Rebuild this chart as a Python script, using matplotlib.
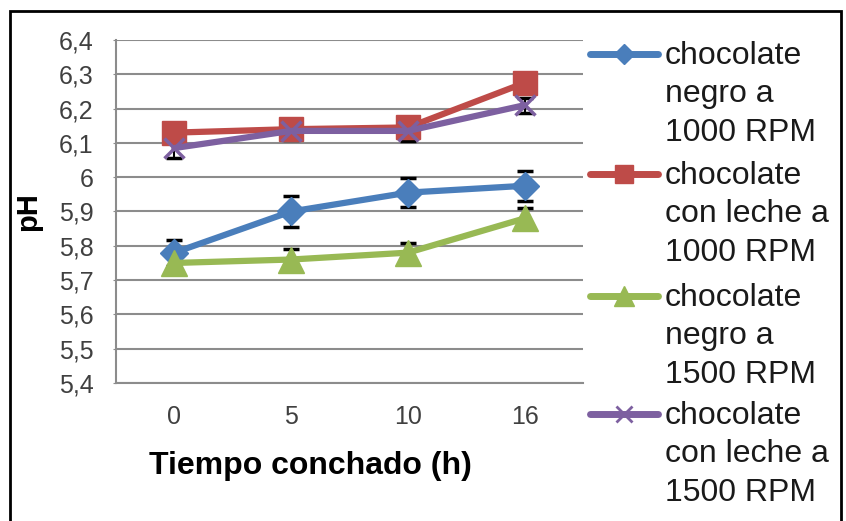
import matplotlib
matplotlib.use("Agg")
import matplotlib.pyplot as plt
from matplotlib.lines import Line2D
from matplotlib.patches import Rectangle
from matplotlib.ticker import FuncFormatter, MultipleLocator

plt.rcParams['font.family'] = ['Liberation Sans', 'DejaVu Sans']

categories = ["0", "5", "10", "16"]
series_names = [
    "chocolate\nnegro a\n1000 RPM",
    "chocolate\ncon leche a\n1000 RPM",
    "chocolate\nnegro a\n1500 RPM",
    "chocolate\ncon leche a\n1500 RPM",
]
negro_1000 = [5.78, 5.90, 5.955, 5.975]
leche_1000 = [6.13, 6.14, 6.145, 6.275]
negro_1500 = [5.75, 5.76, 5.78, 5.88]
leche_1500 = [6.085, 6.135, 6.135, 6.21]

err_negro_1000 = [0.038, 0.044, 0.043, 0.044]
err_leche_1000 = [0.0, 0.0, 0.0, 0.0]
err_negro_1500 = [0.03, 0.032, 0.027, 0.029]
err_leche_1500 = [0.03, 0.026, 0.03, 0.022]

colors = ["#4A7EBB", "#BE4B48", "#98B954", "#7D60A0"]
markers = ["D", "s", "^", "x"]
msizes = [14, 17, 19, 15]

values = [negro_1000, leche_1000, negro_1500, leche_1500]
errors = [err_negro_1000, err_leche_1000, err_negro_1500, err_leche_1500]

W, H = 846, 521
fig = plt.figure(figsize=(W / 100, H / 100), dpi=100)
ax = fig.add_axes([116 / W, (H - 383) / H, 467 / W, 343 / H])

x = list(range(len(categories)))
for i, (vals, errs) in enumerate(zip(values, errors)):
    ax.plot(x, vals, color=colors[i], lw=4.5, marker=markers[i], ms=msizes[i],
            mew=2.5 if markers[i] == "x" else 1, mec=colors[i], mfc=colors[i],
            zorder=3 + i, solid_capstyle='round')
    if any(e > 0 for e in errs):
        ax.errorbar(x, vals, yerr=errs, fmt='none', ecolor='black', elinewidth=1.5,
                    capsize=6, capthick=2.5, zorder=2.5)

ax.set_xlim(-0.5, 3.5)
ax.set_ylim(5.4, 6.4)
ax.yaxis.set_major_locator(MultipleLocator(0.1))

def fmt(v, pos):
    s = f"{v:.1f}".replace('.', ',')
    if s.endswith(',0'):
        s = s[:-2]
    return s

ax.yaxis.set_major_formatter(FuncFormatter(fmt))
ax.set_xticks(x)
ax.set_xticklabels(categories)
ax.grid(axis='y', color='#8C8C8C', lw=1.5)
ax.set_axisbelow(True)
for side in ['top', 'right']:
    ax.spines[side].set_visible(False)
for side in ['left', 'bottom']:
    ax.spines[side].set_color('#8C8C8C')
    ax.spines[side].set_linewidth(1.5)
ax.tick_params(axis='y', length=2, color='#8C8C8C', pad=14, labelsize=18, labelcolor='#404040')
ax.tick_params(axis='x', length=0, pad=16, labelsize=18, labelcolor='#404040')

fig.text(310 / W, 1 - 466 / H, "Tiempo conchado (h)", fontsize=23, fontweight='bold',
         ha='center', va='center')
fig.text(28 / W, 1 - 212 / H, "pH", rotation=90, fontsize=21, fontweight='bold',
         ha='center', va='center')

# legend drawn manually
first_line_y = [54, 174, 296, 414]
for i in range(4):
    yc = 1 - first_line_y[i] / H
    fig.add_artist(Line2D([590 / W, 658 / W], [yc, yc], color=colors[i], lw=5,
                          solid_capstyle='round', transform=fig.transFigure))
    fig.add_artist(Line2D([624 / W], [yc], color=colors[i], marker=markers[i],
                          ms=msizes[i] * 0.75, mew=2 if markers[i] == "x" else 1,
                          transform=fig.transFigure))
    fig.text(665 / W, yc + 13 / H, series_names[i], fontsize=23, ha='left', va='top',
             linespacing=1.36, color='#1A1A1A')

fig.add_artist(Rectangle((10 / W, -0.05), 831 / W, 1.05 - 11 / H, fill=False,
                         edgecolor='black', lw=2, transform=fig.transFigure))

fig.savefig("out.png", dpi=100)
